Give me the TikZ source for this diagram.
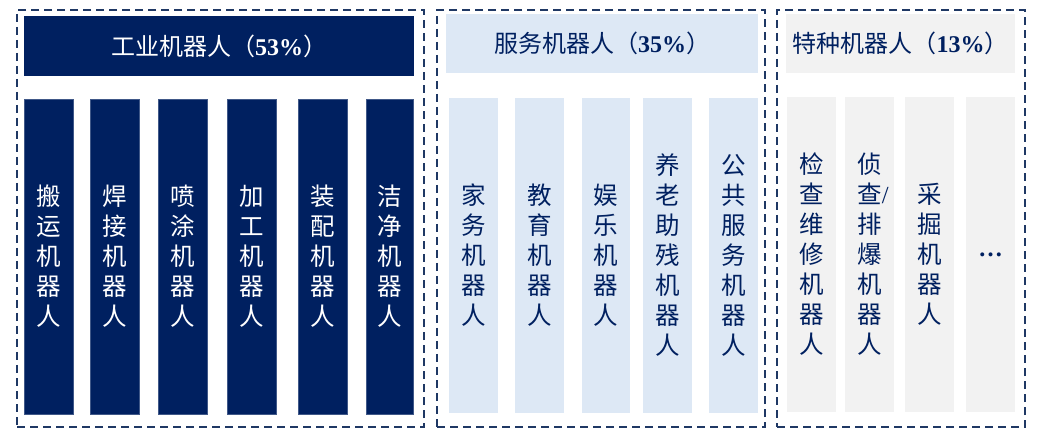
\documentclass[tikz,border=0pt]{standalone}
\usepackage{fontspec}
\setmainfont{Liberation Serif}
\newfontfamily\cjk{Noto Sans CJK SC}
\definecolor{navy}{HTML}{002060}
\definecolor{lightblue}{HTML}{DDE8F5}
\definecolor{lightgrey}{HTML}{F2F2F2}
\definecolor{dashcol}{HTML}{1F3864}
\tikzset{
  group/.style={draw=dashcol, line width=1.6pt, dash pattern=on 8pt off 5pt, minimum width=#1, inner sep=0pt},
  hdr/.style={inner sep=0pt, font=\cjk\fontsize{24}{28}\selectfont},
  hdrdark/.style={hdr, fill=navy, text=white},
  hdrblue/.style={hdr, fill=lightblue, text=navy},
  hdrgrey/.style={hdr, fill=lightgrey, text=navy},
  colbox/.style={inner sep=0pt, minimum width=49pt, minimum height=315pt, align=center, font=\cjk\fontsize{24.5}{30}\selectfont},
  indcol/.style={colbox, fill=navy, draw=navy!75!white, line width=0.4pt, text=white},
  svccol/.style={colbox, fill=lightblue, text=navy},
  spccol/.style={colbox, fill=lightgrey, text=navy},
}
\newcommand{\pct}[1]{{\rmfamily\bfseries #1}}
\begin{document}
\begin{tikzpicture}[x=1pt,y=-1pt]
\fill[white] (0,0) rectangle (1059,443);
\useasboundingbox (0,0) rectangle (1059,443);
% dashed groups
\node[group=407pt, minimum height=417pt] (g1) at (220.5,218.5) {};
\node[group=328pt, minimum height=417pt] (g2) at (601,218.5) {};
\node[group=248pt, minimum height=417pt] (g3) at (901,218.5) {};
% headers
\node[hdrdark, minimum width=390pt, minimum height=60pt] (h1) at (219,46) {工业机器人（\pct{53\%}）};
\node[hdrblue, minimum width=312pt, minimum height=59pt] (h2) at (602,43.5) {服务机器人（\pct{35\%}）};
\node[hdrgrey, minimum width=229pt, minimum height=59pt] (h3) at (900.5,43.5) {特种机器人（\pct{13\%}）};
% industrial
\node[indcol] (i1) at (48.5,256.5) {搬\\运\\机\\器\\人};
\node[indcol] (i2) at (114.5,256.5) {焊\\接\\机\\器\\人};
\node[indcol] (i3) at (182.5,256.5) {喷\\涂\\机\\器\\人};
\node[indcol] (i4) at (251.5,256.5) {加\\工\\机\\器\\人};
\node[indcol] (i5) at (322.5,256.5) {装\\配\\机\\器\\人};
\node[indcol, minimum width=47pt] (i6) at (389.5,256.5) {洁\\净\\机\\器\\人};
% service
\node[svccol] (s1) at (473.5,255.5) {家\\务\\机\\器\\人};
\node[svccol] (s2) at (539.5,255.5) {教\\育\\机\\器\\人};
\node[svccol, minimum width=48pt] (s3) at (606,255.5) {娱\\乐\\机\\器\\人};
\node[svccol] (s4) at (667.5,255.5) {养\\老\\助\\残\\机\\器\\人};
\node[svccol] (s5) at (733.5,255.5) {公\\共\\服\\务\\机\\器\\人};
% special
\node[spccol] (p1) at (811.5,254.5) {检\\查\\维\\修\\机\\器\\人};
\node[spccol] (p2) at (869.5,254.5) {侦\\查\rlap{\rmfamily/}\\排\\爆\\机\\器\\人};
\node[spccol] (p3) at (929.5,254.5) {采\\掘\\机\\器\\人};
\node[spccol] (p4) at (990.5,254.5) {\rmfamily\bfseries …};
\end{tikzpicture}
\end{document}
